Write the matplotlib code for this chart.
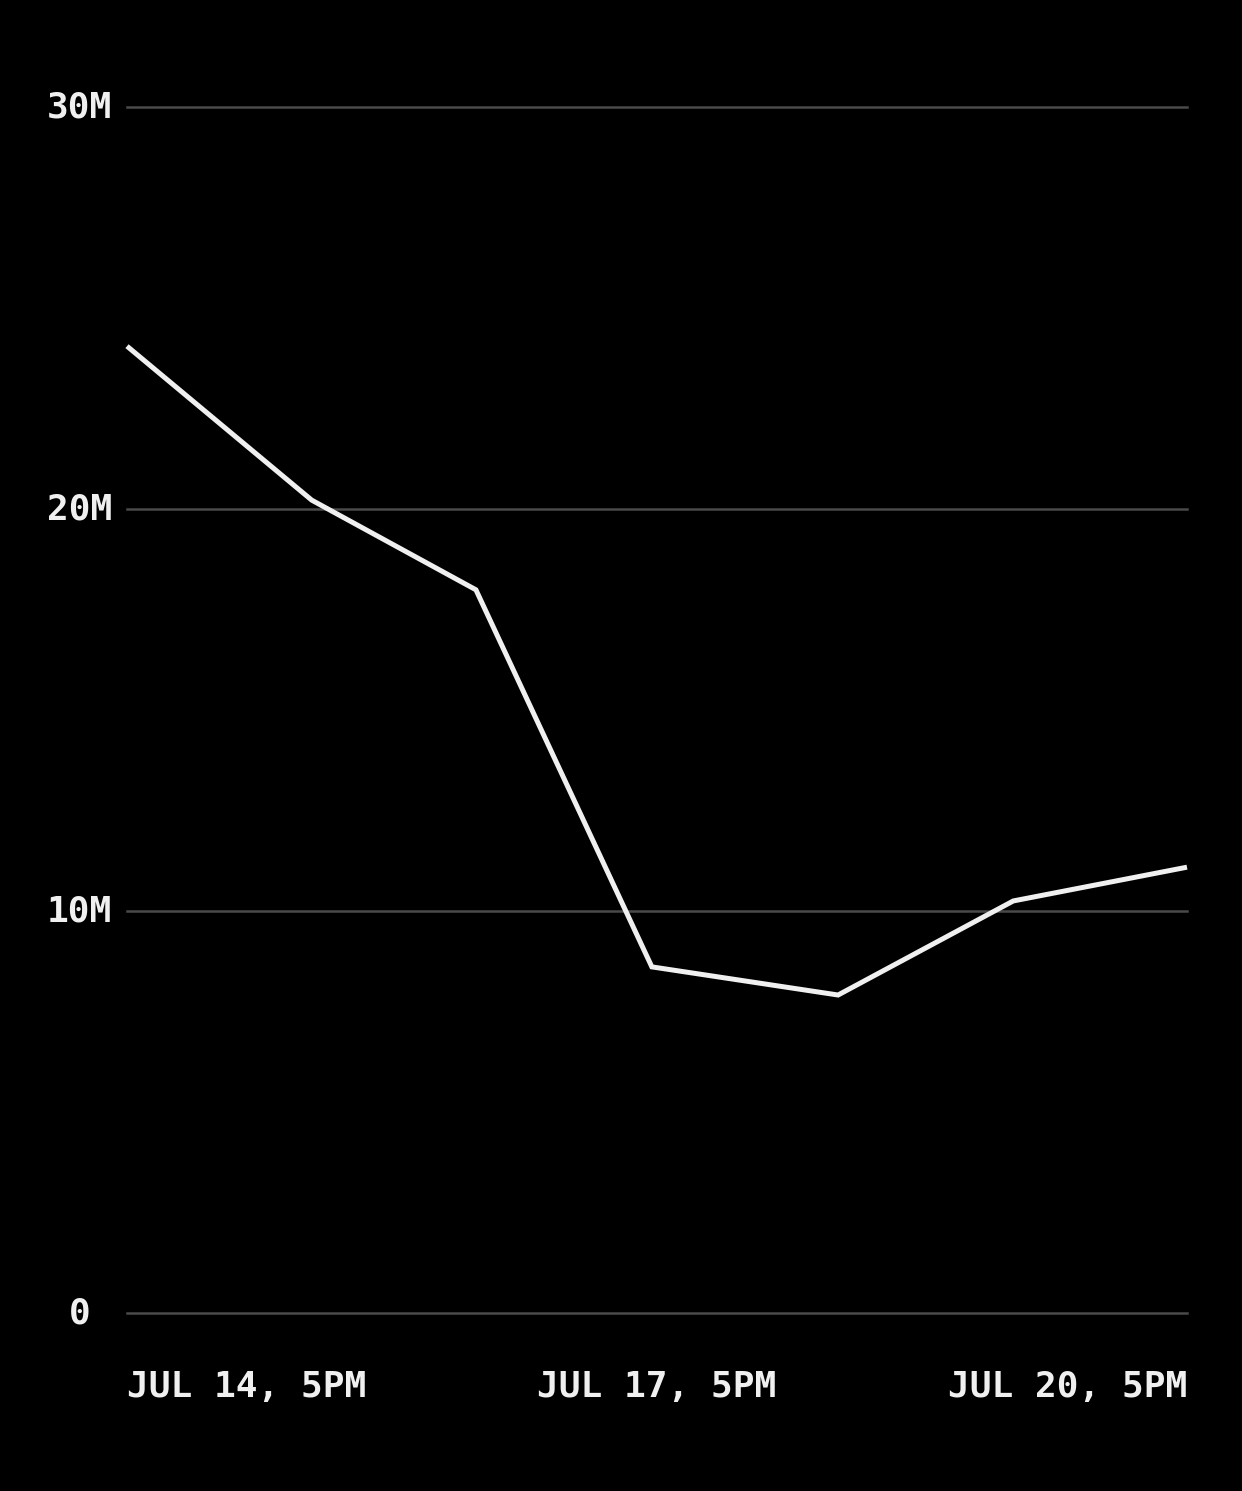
import matplotlib
matplotlib.use("Agg")
import matplotlib.pyplot as plt

# hours since JUL 14, 5PM
hours = [0, 25.1, 47.4, 71.3, 96.6, 120.4, 144]
values = [24.05e6, 20.22e6, 17.99e6, 8.61e6, 7.91e6, 10.25e6, 11.09e6]
x_tick_hours = [0, 72, 144]
x_labels = ["JUL 14, 5PM", "JUL 17, 5PM", "JUL 20, 5PM"]
y_ticks = [0, 10e6, 20e6, 30e6]
y_labels = ["0", "10M", "20M", "30M"]

W, H = 1242, 1491
fig = plt.figure(figsize=(W / 100, H / 100), dpi=100, facecolor="black")
left, right, top, bottom = 127, 1187, 107, 1313
ax = fig.add_axes([left / W, 1 - bottom / H, (right - left) / W, (bottom - top) / H])
ax.set_facecolor("black")

ax.plot(hours, values, color="#f0f0f0", lw=3.6, solid_joinstyle="miter",
        solid_capstyle="butt", clip_on=False, zorder=3)

ax.set_xlim(hours[0], hours[-1])
ax.set_ylim(0, 30e6)
for s in ax.spines.values():
    s.set_visible(False)

for t in y_ticks:
    ax.axhline(t, color="#4a4a4a", lw=1.8, zorder=1, clip_on=False)

font = dict(family=["DejaVu Sans Mono"], fontsize=26, color="#f0f0f0", fontweight="bold")
ax.set_yticks([])
ax.set_xticks([])

# y labels, centred in the left margin
for t, lab in zip(y_ticks, y_labels):
    ax.annotate(lab, xy=(0, t), xycoords=("axes fraction", "data"),
                xytext=(-47.5, 3), textcoords="offset pixels",
                ha="center", va="center_baseline", **font)

aligns = ["left", "center", "right"]
for xh, lab, ha in zip(x_tick_hours, x_labels, aligns):
    ax.text(xh, -1.83e6, lab, ha=ha, va="center", **font)

fig.savefig("out.png", dpi=100, facecolor="black")
